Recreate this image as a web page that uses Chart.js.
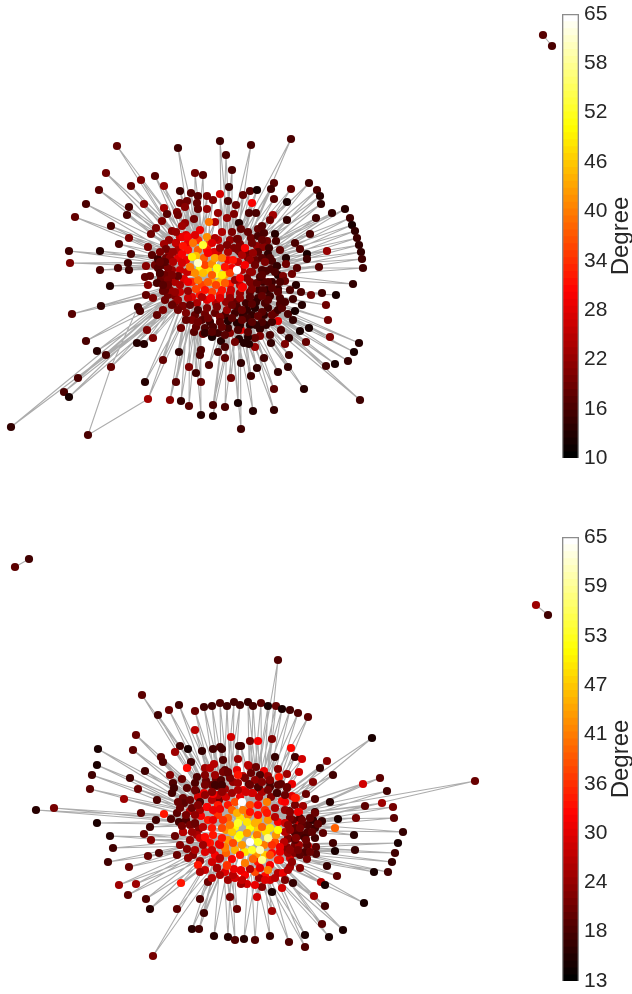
<!DOCTYPE html>
<html>
<head>
<meta charset="utf-8">
<script src="https://cdn.jsdelivr.net/npm/chart.js@4/dist/chart.umd.min.js"></script>
<style>
    html, body { margin: 0; padding: 0; background: #fff; }
    body { position: relative; width: 632px; height: 994px; overflow: hidden; }
    canvas { position: absolute; display: block; }
</style>
</head>
<body>
<canvas id="topNet" width="560" height="497" style="left:0;top:0"></canvas>
<canvas id="topBar" width="80" height="507" style="left:552px;top:-10px"></canvas>
<canvas id="botNet" width="560" height="497" style="left:0;top:497px"></canvas>
<canvas id="botBar" width="80" height="507" style="left:552px;top:497px"></canvas>
<script>
// Nodes are [x, y, degree], grouped by side of the cluster
const topNW = [[117,146,16],[178,148,13],[106,173,17],[155,176,15],[141,180,18],[131,186,16],[164,186,20],[99,190,15],[180,191,13],[86,204,14],[144,204,19],[129,207,14],[164,208,21],[180,203,17],[187,201,17],[177,212,18],[185,207,19],[127,215,14],[167,214,15],[178,215,17],[75,217,16],[162,221,18],[111,226,14],[156,228,18],[185,223,20],[182,226,21],[172,231,19],[151,234,17],[129,238,18],[169,240,20],[164,244,21],[176,243,19],[180,237,25],[186,235,26],[119,244,14],[148,247,18],[69,251,13],[100,251,11],[131,254,14],[152,255,15],[169,252,20],[70,263,18],[128,263,13],[118,268,14],[100,270,14],[129,270,13],[146,266,19],[155,265,17],[158,259,13],[163,265,15],[166,258,17],[191,193,15],[195,173,17],[203,175,15],[207,196,18],[198,196,15],[213,200,18],[197,203,16],[198,209,16],[207,209,20],[194,219,17],[215,222,22]];
const topNE = [[220,141,13],[251,145,14],[291,139,14],[226,155,14],[232,170,14],[229,187,13],[274,183,15],[309,183,13],[291,189,16],[317,190,14],[243,195,16],[250,191,15],[257,190,10],[271,189,13],[320,196,11],[220,194,25],[228,201,14],[252,203,28],[274,199,15],[287,202,10],[321,204,12],[236,205,17],[345,209,11],[332,213,12],[350,218,13],[352,225,10],[355,231,12],[357,238,13],[359,245,12],[361,252,12],[362,259,13],[363,268,13],[319,267,15],[353,284,12],[218,213,20],[234,214,18],[249,213,14],[256,213,14],[273,215,21],[270,220,17],[287,220,12],[316,218,13],[239,223,11],[227,218,20],[258,229,16],[264,233,14],[275,234,11],[310,234,14],[276,241,14],[267,241,17],[295,243,14],[300,249,15],[280,250,16],[307,254,10],[327,251,20],[307,259,13],[286,258,11],[286,264,17],[297,268,15],[292,274,17],[278,275,11],[241,229,16],[251,238,17],[238,239,18],[258,236,14],[257,246,20],[263,247,19],[269,248,13],[268,254,12],[248,254,17],[240,252,14],[234,248,18],[256,260,16],[272,261,14],[266,271,14],[271,269,14],[277,266,12]];
const topSW = [[145,277,16],[150,276,16],[160,274,16],[166,275,18],[161,279,16],[171,280,14],[110,286,11],[148,285,19],[166,285,16],[163,291,16],[146,295,16],[153,298,18],[168,295,17],[175,296,18],[101,306,12],[72,314,15],[138,307,13],[140,311,14],[157,315,16],[163,310,18],[174,304,18],[182,306,17],[147,330,18],[181,328,17],[86,341,14],[153,338,18],[137,343,11],[144,344,11],[97,351,11],[106,355,14],[179,352,12],[163,360,16],[111,367,16],[189,367,18],[78,378,14],[176,382,15],[145,382,11],[64,392,14],[69,397,10],[148,399,21],[170,400,19],[181,401,12],[189,406,15],[11,427,12],[203,334,17],[194,332,15],[201,350,14],[200,355,14],[196,373,13],[201,382,16],[201,415,11]];
const topSE = [[296,285,11],[301,292,14],[311,295,17],[322,293,13],[336,295,10],[283,276,18],[285,281,16],[278,289,13],[326,305,17],[328,320,17],[293,299,13],[302,305,11],[280,304,14],[288,314,14],[295,311,10],[275,313,16],[264,315,12],[293,320,12],[278,321,26],[300,331,10],[309,328,10],[266,325,12],[260,329,12],[281,330,14],[270,335,14],[289,338,12],[330,337,18],[306,342,16],[359,343,11],[354,352,10],[285,344,18],[271,343,12],[348,361,12],[335,364,10],[326,366,13],[289,355,13],[288,367,12],[264,358,13],[278,372,12],[257,368,12],[255,347,20],[260,336,18],[255,338,16],[248,337,11],[249,344,11],[244,343,11],[239,339,11],[235,342,17],[241,330,26],[230,333,19],[221,341,11],[225,347,14],[212,337,10],[218,352,14],[225,358,16],[241,363,12],[251,376,13],[231,378,17],[274,389,15],[304,389,11],[238,403,10],[253,411,11],[274,410,12],[213,405,14],[225,407,14],[241,429,13],[360,400,13],[213,416,11],[209,365,14],[263,282,13],[252,284,18],[259,290,13],[267,290,12]];
const topFill = [[176,232,20],[200,230,27],[222,232,22],[232,232,18],[248,232,16],[262,226,15],[176,243,24],[188,243,27],[198,240,32],[208,245,34],[218,240,24],[230,240,20],[240,244,18],[252,243,17],[262,240,16],[166,249,17],[178,250,22],[188,250,30],[198,250,36],[207,250,30],[218,252,24],[228,252,22],[238,250,18],[248,258,18],[258,252,15],[270,258,14],[170,258,20],[178,258,26],[186,260,27],[196,256,44],[204,258,36],[214,252,26],[228,260,28],[238,262,24],[250,260,20],[262,258,15],[172,270,20],[180,270,24],[192,272,36],[200,268,50],[208,270,46],[216,274,52],[225,275,42],[232,268,28],[242,270,22],[250,272,20],[262,270,14],[275,272,14],[165,275,17],[175,282,22],[184,279,26],[192,282,32],[202,285,34],[212,282,42],[220,282,44],[230,284,30],[240,285,24],[250,282,18],[262,280,15],[272,282,13],[170,290,20],[180,292,24],[192,297,26],[200,295,30],[212,292,34],[220,295,30],[230,294,24],[240,293,20],[250,292,16],[258,298,13],[270,296,13],[280,298,14],[178,300,20],[188,298,24],[197,303,22],[207,300,26],[216,303,22],[226,302,20],[236,302,16],[246,303,13],[256,302,12],[268,308,13],[278,310,13],[186,313,18],[195,315,16],[205,314,17],[215,313,16],[225,315,14],[235,313,13],[243,315,12],[252,315,12],[262,322,14],[272,322,13],[205,328,14],[218,333,13],[228,328,13],[240,325,12],[250,325,11],[256,325,12],[205,333,12]];
const topCore = [[160,252,18],[158,268,15],[157,283,14],[172,305,16],[165,300,17],[192,320,18],[196,327,16],[202,320,15],[210,322,13],[220,317,18],[228,321,11],[237,323,11],[247,318,13],[213,327,14],[222,327,16],[198,310,14],[207,308,18],[217,307,18],[227,310,20],[237,307,14],[247,310,12],[255,308,11],[265,303,14],[183,306,18],[190,305,16],[202,297,22],[211,298,28],[220,298,26],[230,298,20],[240,298,20],[250,297,15],[165,290,16],[175,292,20],[188,291,20],[196,289,34],[205,290,30],[222,290,30],[231,290,24],[242,288,30],[252,289,18],[263,290,14],[168,280,18],[180,285,22],[188,282,27],[198,280,38],[208,282,36],[216,285,34],[225,283,36],[235,280,20],[247,278,18],[257,283,16],[243,287,28],[160,273,14],[168,268,18],[178,276,16],[187,272,24],[195,273,40],[203,273,44],[212,275,36],[222,275,48],[230,273,34],[240,278,28],[252,272,20],[260,277,14],[165,262,15],[173,262,22],[182,263,25],[190,267,38],[205,265,34],[212,264,40],[217,268,50],[225,267,30],[237,270,65],[245,265,28],[255,265,17],[265,262,18],[173,252,20],[182,254,28],[192,257,48],[198,263,60],[208,253,28],[215,258,42],[222,258,38],[233,260,30],[242,255,22],[253,253,20],[183,237,27],[188,237,28],[195,235,26],[207,237,40],[215,238,22],[183,246,30],[193,243,38],[203,245,52],[212,243,26],[220,248,20],[227,245,18],[237,239,17],[245,248,28],[209,222,38]];
const topRim = [[232,318,15],[242,320,16],[252,322,15],[262,312,15],[272,315,16],[282,308,15],[238,330,14],[248,332,15],[258,316,16],[268,300,15],[278,292,15],[285,302,14],[262,296,16],[252,304,15],[242,310,16],[232,305,17],[220,322,16],[208,318,17],[198,322,17],[225,335,15],[212,332,15],[290,290,14],[272,288,15],[262,275,15],[268,282,15],[280,282,14],[168,285,17],[172,275,18],[160,262,16],[163,285,15],[178,310,17],[186,320,16]];
const topChordNodes = [[88,435,14],[543,35,15],[552,46,14]];

const botNW = [[142,695,18],[158,715,16],[169,710,19],[179,705,16],[195,711,19],[204,707,16],[212,706,16],[220,703,17],[227,706,16],[234,702,16],[240,705,16],[195,730,25],[231,737,27],[136,735,19],[98,749,13],[133,750,18],[180,746,16],[188,749,13],[175,752,23],[202,751,15],[213,749,16],[220,747,17],[222,749,16],[239,746,16],[161,757,18],[163,762,17],[191,762,16],[223,760,17],[97,765,13],[145,771,16],[187,768,31],[205,768,23],[210,768,25],[214,764,25],[225,770,18],[228,773,17],[238,759,23],[92,775,16],[130,778,16],[170,775,21],[182,779,19],[197,777,17],[195,783,17],[206,781,19],[216,779,19],[221,780,17],[90,789,18],[138,789,19],[173,783,17],[172,793,16],[174,788,16],[187,788,18],[196,791,16],[212,785,19],[217,786,18],[225,789,23],[233,782,22],[124,799,23],[157,800,17],[183,798,19],[184,803,18],[178,802,19],[198,797,27],[204,793,29],[36,810,14],[54,808,20],[141,813,18],[164,814,32],[177,813,18],[190,811,25],[201,816,30],[207,807,32],[215,811,32],[219,800,20],[212,800,25],[97,823,13],[156,820,16],[171,819,17],[150,827,16],[179,822,16],[186,820,17],[195,824,18],[199,829,21]];
const botSW = [[110,836,14],[144,834,19],[151,840,21],[175,836,19],[183,832,23],[113,848,16],[180,845,21],[187,849,21],[159,853,17],[148,856,19],[177,855,19],[193,855,21],[108,862,16],[129,867,19],[200,861,23],[198,865,32],[217,868,27],[208,882,19],[119,885,23],[136,884,23],[181,883,32],[128,895,18],[146,899,17],[200,899,17],[228,880,23],[235,878,27],[230,897,20],[150,909,14],[177,909,18],[237,909,19],[204,913,16],[192,929,14],[199,929,16],[214,936,14],[228,937,14],[235,940,17],[153,956,20]];
const botNE = [[278,660,17],[248,702,15],[253,706,16],[261,703,18],[268,706,13],[276,706,19],[282,709,13],[290,710,16],[298,713,17],[308,717,18],[372,738,13],[250,741,20],[258,741,30],[272,739,21],[241,746,16],[291,748,31],[327,761,21],[275,757,15],[295,757,16],[302,759,27],[320,768,15],[299,772,27],[278,769,21],[249,766,23],[256,767,19],[264,771,29],[333,775,16],[251,773,19],[260,775,17],[279,777,32],[287,774,23],[243,776,25],[380,778,18],[475,781,19],[363,784,27],[313,782,21],[270,782,17],[249,784,17],[259,788,18],[270,787,17],[281,784,18],[292,784,29],[287,787,19],[387,791,16],[306,794,19],[243,790,29],[253,793,29],[277,793,21],[292,796,28],[296,798,34],[315,799,17],[271,797,21],[259,797,25],[282,801,31],[285,802,30],[330,802,14],[382,803,23],[365,806,18],[393,807,20],[303,806,23],[315,812,14],[289,811,17],[299,812,31],[356,818,20],[394,818,18],[338,819,13],[322,821,15],[335,828,38],[403,832,15],[354,835,14],[323,833,18],[308,825,17],[299,824,27],[313,820,15],[293,820,18],[315,828,16],[307,833,16],[295,833,17]];
const botSE = [[398,843,13],[333,843,16],[395,853,16],[355,850,15],[335,851,13],[392,862,15],[316,847,18],[316,854,17],[307,859,20],[327,866,15],[374,872,13],[388,872,16],[337,876,18],[290,867,23],[321,882,25],[325,885,13],[293,883,15],[282,888,27],[272,892,13],[364,903,13],[314,896,23],[325,906,16],[272,911,23],[257,897,27],[262,887,21],[255,885,29],[247,884,27],[241,884,23],[322,924,18],[343,930,13],[305,935,13],[329,937,13],[270,936,15],[289,942,17],[305,947,17],[244,939,14],[255,940,17],[270,880,27],[265,876,31],[259,878,23],[278,873,25],[283,873,29],[288,839,20],[295,845,20],[299,845,23],[308,846,27],[290,858,27],[288,853,23],[305,852,17],[295,853,21],[281,850,21],[280,860,31],[302,835,18],[300,835,17],[308,832,17],[288,838,21],[287,847,21],[307,845,18]];
const botFill = [[205,775,21],[215,775,23],[230,778,20],[245,778,20],[255,780,22],[268,776,23],[278,785,18],[205,795,22],[218,795,25],[226,797,27],[240,797,29],[246,792,27],[262,792,24],[268,790,20],[285,795,19],[192,808,19],[200,810,24],[218,805,32],[228,805,32],[235,802,36],[250,805,36],[258,805,30],[265,810,34],[275,808,24],[285,810,22],[295,805,20],[195,815,22],[208,820,32],[218,815,34],[228,818,38],[240,818,48],[248,815,40],[258,820,44],[268,820,42],[278,822,30],[290,818,20],[300,818,17],[190,825,20],[197,835,24],[212,828,32],[226,830,42],[235,827,50],[250,828,50],[258,830,46],[266,832,48],[285,832,25],[295,828,18],[305,838,16],[190,840,22],[200,838,27],[210,843,32],[228,840,42],[238,838,52],[255,838,52],[264,845,40],[275,842,36],[284,842,25],[295,840,18],[315,838,16],[195,850,24],[205,852,28],[215,855,30],[226,853,38],[235,850,44],[245,852,48],[256,855,42],[265,855,46],[278,860,32],[290,850,22],[300,855,18],[212,862,27],[205,870,26],[225,872,28],[233,875,25],[245,875,30],[255,872,36],[265,880,28],[275,878,25],[285,880,20],[220,875,24],[258,862,32],[270,865,30]];
const botCore = [[200,802,17],[195,790,19],[207,807,30],[213,810,29],[195,823,19],[183,832,25],[203,827,25],[207,842,31],[219,844,29],[225,848,40],[219,859,28],[227,865,36],[234,869,29],[241,871,31],[237,770,29],[238,775,32],[248,765,25],[223,772,20],[228,772,19],[250,785,19],[258,787,17],[238,783,23],[215,785,16],[222,785,16],[232,793,23],[252,793,27],[277,793,16],[287,788,19],[295,798,32],[290,812,21],[298,812,29],[315,813,19],[302,825,18],[213,794,30],[220,809,29],[267,802,40],[217,868,23],[227,866,34],[241,870,29],[250,869,25],[260,868,29],[268,870,40],[220,858,25],[232,859,30],[245,863,40],[253,859,38],[212,850,27],[225,847,40],[240,855,32],[272,853,31],[203,845,23],[220,845,29],[233,843,36],[242,845,42],[272,845,34],[280,847,29],[280,852,29],[270,855,36],[205,837,31],[213,835,32],[222,838,32],[232,832,46],[240,835,50],[247,833,42],[257,835,40],[276,835,42],[213,820,29],[222,828,36],[230,825,40],[238,823,52],[247,822,48],[255,823,44],[262,827,38],[270,828,48],[278,830,50],[285,823,27],[223,820,34],[232,810,38],[237,813,44],[243,810,40],[250,812,32],[258,815,31],[267,813,32],[275,817,25],[242,802,63],[258,842,52],[252,850,52],[268,838,57],[260,850,59],[262,860,57],[250,842,65]];
const botRim = [[300,828,20],[306,840,19],[312,832,18],[296,838,21],[290,830,22],[302,820,19],[310,818,18],[318,824,18],[288,825,22],[298,850,20],[310,852,19],[292,862,22],[186,815,20],[180,808,19],[190,800,19],[198,805,21],[205,785,20],[212,792,21],[222,792,22],[238,790,24],[270,780,21],[262,782,21],[182,826,20],[192,832,23],[188,858,22],[200,872,24],[212,878,25],[242,880,26],[288,870,24],[300,868,21]];
const botChordNodes = [[15,567,18],[29,559,16],[536,605,23],[548,615,16]];

// Where each side's edges run to, inside the cluster
const topHubsNW = [[205,262],[195,268]];
const topHubsNE = [[222,268],[232,278]];
const topHubsSW = [[200,285],[190,280]];
const topHubsSE = [[228,290],[240,290]];
const topHubsCore = [[212,275]];
const botHubsNW = [[232,820],[222,825]];
const botHubsNE = [[250,820],[262,830]];
const botHubsSW = [[232,845],[222,838]];
const botHubsSE = [[250,850],[262,845]];
const botHubsCore = [[245,835]];

// Edges that do not run into the cluster: [x1, y1, x2, y2]
const topChords = [[88,435,148,399],[88,435,111,367],[111,367,138,307],[543,35,552,46]];
const botChords = [[15,567,29,559],[536,605,548,615]];

const topTicks = [10,16.1,22.2,28.3,34.4,40.6,46.7,52.8,58.9,65];
const topTickLabels = ['10','16','22','28','34','40','46','52','58','65'];
const botTicks = [13,18.8,24.6,30.3,36.1,41.9,47.7,53.4,59.2,65];
const botTickLabels = ['13','18','24','30','36','41','47','53','59','65'];

// The degrees above were read about 2 too low against the colourbar
const DEGREE_READ_CORRECTION = 2;

const TEXT_COLOR = '#262626';
const FONT = '"Liberation Sans", Arial, sans-serif';
const LEVELS = 64;

// MATLAB style hot colormap
const hot = (t) => {
    const c = (v) => Math.round(255 * Math.max(0, Math.min(1, v)));
    return `rgb(${c(t / 0.375)},${c((t - 0.375) / 0.375)},${c((t - 0.75) / 0.25)})`;
};

// Chart.js only turns a right hand axis title clockwise, the reference reads bottom to top
const degreeTitle = {
    id: 'degreeTitle',
    afterDraw(chart) {
        const { ctx, chartArea } = chart;
        ctx.save();
        ctx.translate(76, (chartArea.top + chartArea.bottom) / 2);
        ctx.rotate(-Math.PI / 2);
        ctx.font = `24px ${FONT}`;
        ctx.fillStyle = TEXT_COLOR;
        ctx.textAlign = 'center';
        ctx.textBaseline = 'alphabetic';
        ctx.fillText('Degree', 0, 0);
        ctx.restore();
    }
};

const renderNetwork = (id, yMin, groups, chords, chordNodes, dMin, dMax) => {
    const edges = [];
    groups.forEach(([nodes, hubs]) => {
        nodes.forEach(n => {
            hubs.forEach(h => {
                edges.push({ x: n[0], y: n[1] }, { x: h[0], y: h[1] }, { x: NaN, y: NaN });
            });
        });
    });
    chords.forEach(c => {
        edges.push({ x: c[0], y: c[1] }, { x: c[2], y: c[3] }, { x: NaN, y: NaN });
    });

    const nodes = groups.flatMap(g => g[0]).concat(chordNodes);

    new Chart(document.getElementById(id), {
        type: 'scatter',
        data: {
            datasets: [
                {
                    data: edges,
                    showLine: true,
                    spanGaps: false,
                    borderColor: '#adadad',
                    borderWidth: 1.1,
                    pointRadius: 0,
                    order: 2
                },
                {
                    data: nodes.map(n => ({ x: n[0], y: n[1] })),
                    pointRadius: 4.1,
                    pointBorderWidth: 0,
                    pointBackgroundColor: nodes.map(n => hot((n[2] + DEGREE_READ_CORRECTION - dMin) / (dMax - dMin))),
                    clip: false,
                    order: 1
                }
            ]
        },
        options: {
            responsive: false,
            animation: false,
            devicePixelRatio: 1,
            events: [],
            layout: { padding: 0, autoPadding: false },
            plugins: { legend: { display: false }, tooltip: { enabled: false } },
            scales: {
                x: { type: 'linear', display: false, min: 0, max: 560 },
                y: { type: 'linear', display: false, reverse: true, min: yMin, max: yMin + 497 }
            }
        }
    });
};

const renderColorbar = (id, ticks, labels, padTop, padBottom) => {
    const min = ticks[0];
    const max = ticks[ticks.length - 1];
    const datasets = [];
    for (let i = 0; i < LEVELS; i++) {
        // each band runs up to the top and the next one paints over it, so no seams show
        datasets.push({
            data: [[min + (max - min) * i / LEVELS, max]],
            backgroundColor: hot(i / (LEVELS - 1)),
            order: LEVELS - i + 1
        });
    }
    datasets.push({
        data: [[min, max]],
        backgroundColor: 'rgba(0,0,0,0)',
        borderColor: '#8c8c8c',
        borderWidth: 1,
        order: 0
    });

    new Chart(document.getElementById(id), {
        type: 'bar',
        data: { labels: ['Degree'], datasets },
        plugins: [degreeTitle],
        options: {
            responsive: false,
            animation: false,
            devicePixelRatio: 1,
            events: [],
            layout: { autoPadding: false, padding: { left: 10, right: 0, top: padTop, bottom: padBottom } },
            plugins: { legend: { display: false }, tooltip: { enabled: false } },
            datasets: { bar: { grouped: false, barPercentage: 1, categoryPercentage: 1 } },
            scales: {
                x: { display: false },
                y: {
                    position: 'right',
                    min, max,
                    grid: { display: false, drawTicks: false },
                    border: { display: false },
                    afterBuildTicks: (scale) => { scale.ticks = ticks.map(v => ({ value: v })); },
                    afterFit: (scale) => { scale.width = 53; },
                    ticks: {
                        color: TEXT_COLOR,
                        font: { family: FONT, size: 21 },
                        padding: 5,
                        autoSkip: false,
                        maxRotation: 0,
                        callback: (value, index) => labels[index]
                    }
                }
            }
        }
    });
};

renderNetwork('topNet', 0, [
    [topNW, topHubsNW], [topNE, topHubsNE], [topSW, topHubsSW], [topSE, topHubsSE], [topFill, topHubsCore], [topCore, topHubsCore], [topRim, topHubsCore]
], topChords, topChordNodes, 10, 65);
renderColorbar('topBar', topTicks, topTickLabels, 24, 39);

renderNetwork('botNet', 497, [
    [botNW, botHubsNW], [botNE, botHubsNE], [botSW, botHubsSW], [botSE, botHubsSE], [botFill, botHubsCore], [botCore, botHubsCore], [botRim, botHubsCore]
], botChords, botChordNodes, 13, 65);
renderColorbar('botBar', botTicks, botTickLabels, 40, 23);
</script>
</body>
</html>
